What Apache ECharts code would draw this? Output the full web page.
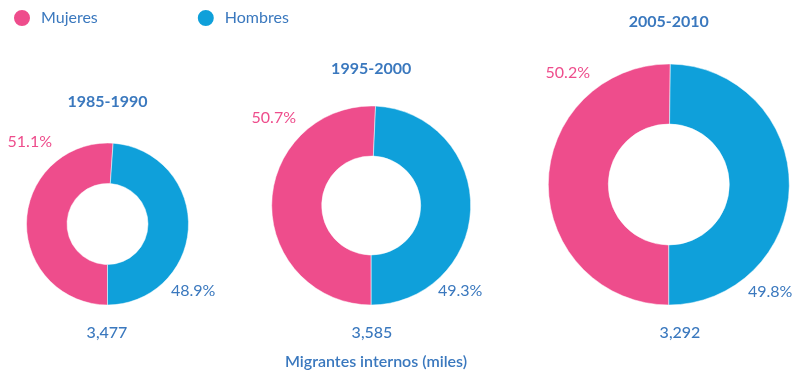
<!DOCTYPE html>
<html><head><meta charset="utf-8">
<script src="https://cdn.jsdelivr.net/npm/echarts@6/dist/echarts.min.js"></script>
<style>html,body{margin:0;padding:0;background:#fff}#c{width:803px;height:373px}</style>
</head><body><div id="c"></div>
<script>
// Data
const periods = ['1985-1990', '1995-2000', '2005-2010'];
const seriesNames = ['Mujeres', 'Hombres'];
const mujeres = [51.1, 50.7, 50.2];
const hombres = [48.9, 49.3, 49.8];
const totals = ['3,477', '3,585', '3,292'];
const footnote = 'Migrantes internos (miles)';

// Layout (positions/sizes only)
const PINK = '#EE4D8C', BLUE = '#0FA0DA', TXT = '#3A78BE';
const FONT = 'Lato, "Open Sans", sans-serif';
const layout = [
  {cx: 107.5, cy: 224, r0: 40.5, r: 81, titleY: 102, totalX: 107, pinkRight: 52, pinkY: 142, blueLeft: 171, blueY: 291},
  {cx: 371.2, cy: 205.5, r0: 49.5, r: 99.5, titleY: 69, totalX: 372, pinkRight: 296, pinkY: 118, blueLeft: 438, blueY: 291},
  {cx: 668.8, cy: 184.5, r0: 60.5, r: 120.5, titleY: 22, totalX: 680, pinkRight: 590, pinkY: 73, blueLeft: 748, blueY: 292}
];
const totalY = 333;

const series = periods.map((p, i) => {
  const L = layout[i];
  return {
    type: 'pie',
    name: p,
    center: [L.cx, L.cy],
    radius: [L.r0, L.r],
    startAngle: 270,
    clockwise: true,
    silent: true,
    animation: false,
    avoidLabelOverlap: false,
    itemStyle: {borderColor: '#ffffff', borderWidth: 0.5},
    label: {
      show: true, position: 'outside',
      formatter: (prm) => prm.value.toFixed(1) + '%',
      fontFamily: FONT, fontSize: 16,
      color: 'inherit'
    },
    labelLine: {show: false},
    labelLayout: (prm) => prm.dataIndex === 0
      ? {x: L.pinkRight, y: L.pinkY, align: 'right', verticalAlign: 'middle'}
      : {x: L.blueLeft, y: L.blueY, align: 'left', verticalAlign: 'middle'},
    data: [
      {name: seriesNames[0], value: mujeres[i], itemStyle: {color: PINK}, label: {color: PINK}},
      {name: seriesNames[1], value: hombres[i], itemStyle: {color: BLUE}, label: {color: TXT}}
    ]
  };
});

const graphics = [];
periods.forEach((p, i) => {
  const L = layout[i];
  graphics.push({type: 'text', x: L.cx, y: L.titleY, style: {text: p, fill: TXT, font: 'bold 16px ' + FONT, textAlign: 'center', textVerticalAlign: 'middle'}});
  graphics.push({type: 'text', x: L.totalX, y: totalY, style: {text: totals[i], fill: TXT, font: '500 16px ' + FONT, textAlign: 'center', textVerticalAlign: 'middle'}});
});
graphics.push({type: 'text', x: 376, y: 362, style: {text: footnote, fill: TXT, font: '600 16px ' + FONT, textAlign: 'center', textVerticalAlign: 'middle'}});

const chart = echarts.init(document.getElementById('c'), null, {renderer: 'canvas'});
chart.setOption({
  animation: false,
  color: [PINK, BLUE],
  legend: {
    data: seriesNames, left: 7, top: 3, icon: 'circle', itemWidth: 18, itemHeight: 18, itemGap: 98,
    selectedMode: false,
    textStyle: {color: TXT, fontFamily: FONT, fontSize: 16, padding: [0, 0, 0, 5]}
  },
  series: series,
  graphic: graphics
});
</script></body></html>
